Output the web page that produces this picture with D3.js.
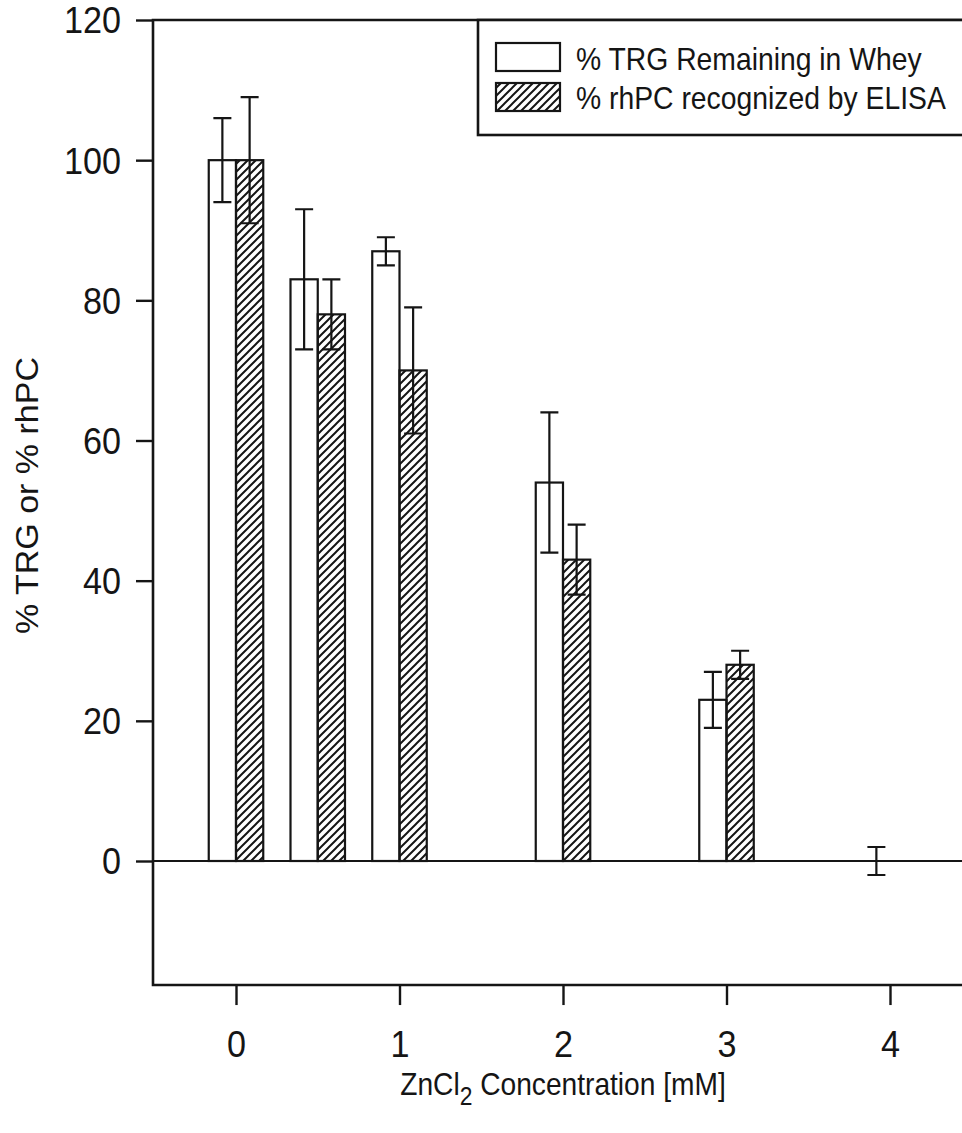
<!DOCTYPE html>
<html>
<head>
<meta charset="utf-8">
<script src="https://cdn.jsdelivr.net/npm/d3@7"></script>
<style>
  body { margin: 0; background: #fff; }
  text { font-family: "Liberation Sans", Arial, Helvetica, sans-serif; fill: #151515; }
</style>
</head>
<body>
<div id="chart"></div>
<script>
// data
let concentrations = [0, 0.5, 1, 2, 3, 4];
let trgValues = [100, 83, 87, 54, 23, 0];
let trgErrors = [6, 10, 2, 10, 4, 2];
let rhpcValues = [100, 78, 70, 43, 28, null];
let rhpcErrors = [9, 5, 9, 5, 2, null];
let xTicks = [0, 1, 2, 3, 4];
let yTicks = [0, 20, 40, 60, 80, 100, 120];
let legendLabels = ['% TRG Remaining in Whey', '% rhPC recognized by ELISA'];

let svgWidth = 962,
    svgHeight = 1133;
let ink = '#151515';

let svg = d3.select('#chart')
    .append('svg')
    .attr('width', svgWidth)
    .attr('height', svgHeight);

// hatch pattern for the rhPC bars
svg.append('defs').append('pattern')
    .attr('id', 'hatch')
    .attr('patternUnits', 'userSpaceOnUse')
    .attr('width', 8)
    .attr('height', 8)
    .append('path')
    .attr('d', 'M-2,2 L2,-2 M0,8 L8,0 M6,10 L10,6')
    .attr('stroke', ink)
    .attr('stroke-width', 2);

// scales
let xScale = d3.scaleLinear().domain([0, 4]).range([236, 890]);
let yScale = d3.scaleLinear().domain([0, 120]).range([861, 20]);

let frameLeft = 153,
    frameRight = 990,
    frameTop = yScale(120),
    frameBottom = yScale(-17.7);
let barW = xScale(1 / 6) - xScale(0);

// y axis ticks
let leftAxis = d3.axisLeft(yScale).tickValues(yTicks).tickSize(17).tickFormat(d3.format('d'));
let yAxisG = svg.append('g')
    .attr('transform', `translate(${frameLeft},0)`)
    .call(leftAxis);
yAxisG.select('.domain').remove();
yAxisG.selectAll('line').attr('stroke', ink).attr('stroke-width', 2.4);
yAxisG.selectAll('text')
    .attr('x', null)
    .attr('dy', '0.36em')
    .attr('transform', 'translate(-32,0) scale(0.95,1)')
    .style('font-size', '36px')
    .style('font-family', '"Liberation Sans", Arial, sans-serif')
    .attr('fill', ink);

// x axis ticks
let bottomAxis = d3.axisBottom(xScale).tickValues(xTicks).tickSize(20).tickFormat(d3.format('d'));
let xAxisG = svg.append('g')
    .attr('transform', `translate(0,${frameBottom})`)
    .call(bottomAxis);
xAxisG.select('.domain').remove();
xAxisG.selectAll('line').attr('stroke', ink).attr('stroke-width', 2.4);
xAxisG.selectAll('text')
    .attr('y', 72)
    .attr('dy', null)
    .attr('transform', 'scale(0.95,1)')
    .style('font-size', '36px')
    .style('font-family', '"Liberation Sans", Arial, sans-serif')
    .attr('fill', ink);

// frame (right side runs off the page)
svg.append('path')
    .attr('d', `M${frameRight},${frameTop} H${frameLeft} V${frameBottom} H${frameRight}`)
    .attr('fill', 'none')
    .attr('stroke', ink)
    .attr('stroke-width', 2.6);

// zero line
svg.append('line')
    .attr('x1', frameLeft).attr('x2', frameRight)
    .attr('y1', yScale(0)).attr('y2', yScale(0))
    .attr('stroke', ink)
    .attr('stroke-width', 2.2);

// bars
let trgIdx = d3.range(concentrations.length).filter(i => trgValues[i] > 0);
let rhpcIdx = d3.range(concentrations.length).filter(i => rhpcValues[i] != null);

svg.append('g').selectAll('rect')
    .data(trgIdx)
    .join('rect')
    .attr('x', i => xScale(concentrations[i]) - barW)
    .attr('y', i => yScale(trgValues[i]))
    .attr('width', barW)
    .attr('height', i => yScale(0) - yScale(trgValues[i]))
    .attr('fill', '#fff')
    .attr('stroke', ink)
    .attr('stroke-width', 2.2);

svg.append('g').selectAll('rect')
    .data(rhpcIdx)
    .join('rect')
    .attr('x', i => xScale(concentrations[i]))
    .attr('y', i => yScale(rhpcValues[i]))
    .attr('width', barW)
    .attr('height', i => yScale(0) - yScale(rhpcValues[i]))
    .attr('fill', 'url(#hatch)')
    .attr('stroke', ink)
    .attr('stroke-width', 2.2);

// error bars
function errorBars(idx, values, errors, offset) {
    let g = svg.append('g')
        .attr('stroke', ink)
        .attr('stroke-width', 2.2)
        .attr('fill', 'none');
    g.selectAll('path')
        .data(idx)
        .join('path')
        .attr('d', i => {
            let cx = xScale(concentrations[i]) + offset;
            let hi = yScale(values[i] + errors[i]);
            let lo = yScale(values[i] - errors[i]);
            return `M${cx - 9},${hi} H${cx + 9} M${cx},${hi} V${lo} M${cx - 9},${lo} H${cx + 9}`;
        });
}
errorBars(d3.range(concentrations.length), trgValues, trgErrors, -barW / 2);
errorBars(rhpcIdx, rhpcValues, rhpcErrors, barW / 2);

// legend
let legend = svg.append('g');
legend.append('rect')
    .attr('x', 478).attr('y', frameTop)
    .attr('width', 600).attr('height', 115)
    .attr('fill', '#fff')
    .attr('stroke', ink)
    .attr('stroke-width', 2.6);
let swatchFills = ['#fff', 'url(#hatch)'];
legendLabels.forEach((label, i) => {
    legend.append('rect')
        .attr('x', 496).attr('y', 43 + i * 40)
        .attr('width', 64).attr('height', 28)
        .attr('fill', swatchFills[i])
        .attr('stroke', ink)
        .attr('stroke-width', 2.2);
    legend.append('text')
        .attr('transform', `translate(576,${70 + i * 39}) scale(0.885,1)`)
        .style('font-size', '32px')
        .text(label);
});

// axis titles
let xTitle = svg.append('text')
    .attr('transform', 'translate(563,1095) scale(0.88,1)')
    .attr('text-anchor', 'middle')
    .style('font-size', '32px');
xTitle.append('tspan').text('ZnCl');
xTitle.append('tspan').attr('dy', 10).style('font-size', '26px').text('2');
xTitle.append('tspan').attr('dy', -10).text(' Concentration [mM]');

svg.append('text')
    .attr('transform', 'translate(38,634) scale(0.9,1) rotate(-90)')
    .attr('text-anchor', 'start')
    .style('font-size', '34px')
    .text('% TRG or % rhPC');
</script>
</body>
</html>
